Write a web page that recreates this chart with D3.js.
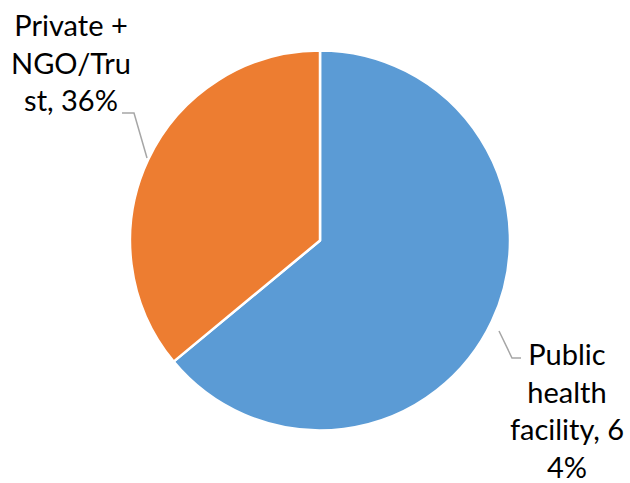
<!DOCTYPE html>
<html>
<head>
<meta charset="utf-8">
<script src="https://cdn.jsdelivr.net/npm/d3@7"></script>
<style>
  html, body { margin: 0; padding: 0; background: #fff; }
  svg { display: block; }
</style>
</head>
<body>
<svg id="chart" width="630" height="483"></svg>
<script>
// Place of delivery shares
const categories = ["Public health facility", "Private + NGO/Trust"];
const values = [64, 36];
const colors = ["#5B9BD5", "#ED7D31"];
// Wrapped data label lines, as displayed
const labelLines = [
  ["Public", "health", "facility, 6", "4%"],
  ["Private +", "NGO/Tru", "st, 36%"]
];

const svg = d3.select("#chart");
const cx = 320, cy = 240.5, r = 190;
const fontFamily = "Lato, 'Open Sans', sans-serif";

const pie = d3.pie().sort(null).value(d => d)(values);
const arc = d3.arc().innerRadius(0).outerRadius(r);

const g = svg.append("g").attr("transform", `translate(${cx},${cy})`);
g.selectAll("path")
  .data(pie)
  .join("path")
  .attr("d", arc)
  .attr("fill", (d, i) => colors[i])
  .attr("stroke", "#fff")
  .attr("stroke-width", 2.5)
  .attr("stroke-linejoin", "round");

// Label placement and leader lines (absolute page coords)
const labelLayout = [
  { x: 567, y0: 365, leader: [[499, 331], [512, 358], [521, 358]] },
  { x: 71, y0: 36, leader: [[147, 158], [134, 113], [122, 113]] }
];

const line = d3.line();
labelLayout.forEach((lay, i) => {
  // leader starts on the arc's outer edge at the label's side
  svg.append("path")
    .attr("d", line(lay.leader))
    .attr("fill", "none")
    .attr("stroke", "#A6A6A6")
    .attr("stroke-width", 1.5);

  const t = svg.append("text")
    .attr("font-family", fontFamily)
    .attr("font-size", 29)
    .attr("fill", "#000")
    .attr("text-anchor", "middle");
  labelLines[i].forEach((s, k) => {
    t.append("tspan")
      .attr("x", lay.x)
      .attr("y", lay.y0 + k * 37.7)
      .text(s);
  });
});
</script>
</body>
</html>
